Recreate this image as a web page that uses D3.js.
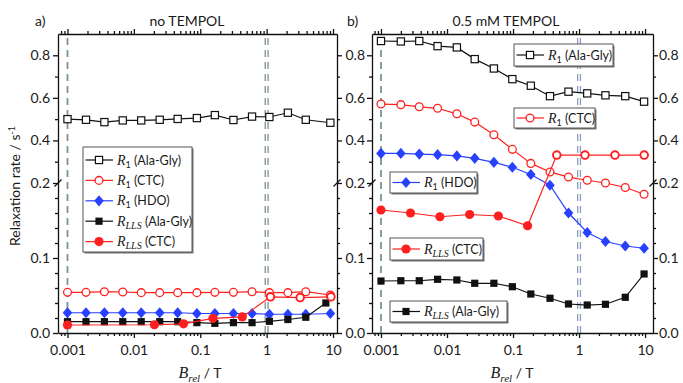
<!DOCTYPE html>
<html>
<head>
<meta charset="utf-8">
<script src="https://cdn.jsdelivr.net/npm/d3@7"></script>
<style>
  body { margin: 0; background: #fff; }
  svg { display: block; }
</style>
</head>
<body>
<svg id="chart" width="683" height="383"></svg>
<script>
// ---- axis ticks ----
const xTickValues = [0.001, 0.01, 0.1, 1, 10];
const xTickLabels = ["0.001", "0.01", "0.1", "1", "10"];
const yTickValues = [0, 0.1, 0.2, 0.4, 0.6, 0.8];
const yTickLabels = ["0.0", "0.1", "0.2", "0.4", "0.6", "0.8"];
const yMinorValues = [0.02, 0.04, 0.06, 0.08, 0.12, 0.14, 0.16, 0.18, 0.3, 0.5, 0.7];
const yBreakDomain = [0, 0.2, 0.9];          // broken axis: 0–0.2 below, 0.2–0.9 above
const guideFields = [0.001, 1];              // dashed guide lines, T

// ---- a) no TEMPOL ----
const fieldNoT = [0.001, 0.0019, 0.0036, 0.0068, 0.0129, 0.0245, 0.0457, 0.089, 0.166, 0.316, 0.603, 1.10, 2.09, 3.89, 9.12];
const r1AlaGlyNoT = [0.500, 0.497, 0.486, 0.494, 0.494, 0.497, 0.501, 0.505, 0.519, 0.496, 0.512, 0.510, 0.530, 0.497, 0.483];
const r1CtcNoT = [0.0542, 0.0542, 0.0551, 0.0547, 0.0538, 0.0538, 0.0538, 0.0538, 0.0542, 0.0542, 0.0551, 0.0538, 0.0538, 0.0551, 0.0507];
const r1HdoNoT = [0.027, 0.027, 0.027, 0.027, 0.027, 0.027, 0.027, 0.026, 0.026, 0.026, 0.026, 0.025, 0.025, 0.025, 0.026];
const fieldLlsAlaGlyNoT = [0.001, 0.0019, 0.0036, 0.0068, 0.0129, 0.0245, 0.0457, 0.089, 0.166, 0.316, 0.603, 1.10, 2.09, 3.89, 7.8];
const rLlsAlaGlyNoT = [0.0151, 0.0151, 0.0151, 0.0151, 0.0151, 0.0151, 0.0151, 0.0138, 0.0129, 0.0138, 0.0138, 0.0156, 0.018, 0.021, 0.040];
const fieldLlsCtcNoT = [0.001, 0.0204, 0.056, 0.155, 0.43, 1.14, 3.2, 9.3];
const rLlsCtcNoT = [0.0107, 0.0110, 0.0122, 0.0196, 0.0215, 0.0482, 0.0472, 0.0482];

// ---- b) 0.5 mM TEMPOL ----
const fieldT = [0.001, 0.002, 0.0038, 0.0072, 0.0141, 0.0263, 0.0513, 0.0977, 0.186, 0.363, 0.692, 1.33, 2.51, 5.01, 9.66];
const r1AlaGlyT = [0.867, 0.865, 0.867, 0.843, 0.837, 0.782, 0.738, 0.688, 0.657, 0.608, 0.629, 0.621, 0.612, 0.608, 0.582];
const r1CtcT = [0.571, 0.568, 0.558, 0.551, 0.525, 0.486, 0.427, 0.358, 0.292, 0.252, 0.228, 0.213, 0.200, 0.194, 0.185];
const r1HdoT = [0.339, 0.339, 0.336, 0.333, 0.327, 0.316, 0.297, 0.274, 0.240, 0.197, 0.160, 0.134, 0.122, 0.116, 0.113];
const rLlsAlaGlyT = [0.0693, 0.0697, 0.0697, 0.0716, 0.0707, 0.0663, 0.0663, 0.0617, 0.052, 0.0463, 0.0387, 0.0373, 0.0383, 0.0476, 0.0787];
const fieldLlsCtcT = [0.001, 0.0028, 0.0078, 0.022, 0.060, 0.166, 0.46, 1.23, 3.5, 9.7];
const rLlsCtcT = [0.164, 0.160, 0.155, 0.158, 0.156, 0.143, 0.331, 0.331, 0.331, 0.331];

// ---- series appearance and legend text ----
const RED = "#ff1f1f", BLUE = "#2741ff", BLACK = "#111";
const kinds = {
  r1AlaGly:   { color: BLACK, shape: "squareOpen", sub: "1",   name: " (Ala-Gly)" },
  r1Ctc:      { color: RED,   shape: "circleOpen", sub: "1",   name: " (CTC)" },
  r1Hdo:      { color: BLUE,  shape: "diamond",    sub: "1",   name: " (HDO)" },
  rLlsAlaGly: { color: BLACK, shape: "squareFill", sub: "LLS", name: " (Ala-Gly)" },
  rLlsCtc:    { color: RED,   shape: "circleFill", sub: "LLS", name: " (CTC)" }
};

const Y_TOP = 34, Y_BREAK = 183, Y_BOTTOM = 333;
const SANS = "Lato, 'Open Sans', sans-serif";
const SERIF = "'Liberation Serif', 'DejaVu Serif', serif";

const panels = [
  {
    tag: "a)", tagX: 35, title: "no TEMPOL", titleX: 187, xTitleX: 200,
    x0: 58, x1: 337, logDomain: [-3.143, 1.06],
    rightLabels: false, guideColors: ["#7c9494", "#7c9494"],
    series: [
      { x: fieldNoT, y: r1AlaGlyNoT, kind: "r1AlaGly" },
      { x: fieldNoT, y: r1CtcNoT, kind: "r1Ctc" },
      { x: fieldNoT, y: r1HdoNoT, kind: "r1Hdo" },
      { x: fieldLlsAlaGlyNoT, y: rLlsAlaGlyNoT, kind: "rLlsAlaGly" },
      { x: fieldLlsCtcNoT, y: rLlsCtcNoT, kind: "rLlsCtc", hollowFrom: 5 }
    ],
    legends: [
      { x: 83, y: 147, w: 109, h: 105, rows: ["r1AlaGly", "r1Ctc", "r1Hdo", "rLlsAlaGly", "rLlsCtc"], row0: 160, step: 20.4 }
    ]
  },
  {
    tag: "b)", tagX: 347, title: "0.5 mM TEMPOL", titleX: 506, xTitleX: 512,
    x0: 372, x1: 653, logDomain: [-3.136, 1.12],
    rightLabels: true, guideColors: ["#7c9494", "#8a9dbf"],
    series: [
      { x: fieldT, y: r1AlaGlyT, kind: "r1AlaGly" },
      { x: fieldT, y: r1CtcT, kind: "r1Ctc" },
      { x: fieldT, y: r1HdoT, kind: "r1Hdo" },
      { x: fieldT, y: rLlsAlaGlyT, kind: "rLlsAlaGly" },
      { x: fieldLlsCtcT, y: rLlsCtcT, kind: "rLlsCtc", hollowFrom: 6 }
    ],
    legends: [
      { x: 514, y: 44, w: 99, h: 22, rows: ["r1AlaGly"], row0: 55, step: 0 },
      { x: 514, y: 108, w: 81, h: 20, rows: ["r1Ctc"], row0: 118, step: 0 },
      { x: 390, y: 172, w: 87, h: 21, rows: ["r1Hdo"], row0: 182.5, step: 0 },
      { x: 390, y: 238, w: 93, h: 22, rows: ["rLlsCtc"], row0: 249, step: 0 },
      { x: 390, y: 301, w: 117, h: 21, rows: ["rLlsAlaGly"], row0: 311.5, step: 0 }
    ]
  }
];

const svg = d3.select("#chart");
const y = d3.scaleLinear().domain(yBreakDomain).range([Y_BOTTOM, Y_BREAK, Y_TOP]);

function marker(g, shape, color, cx, cy, hollow) {
  if (shape === "squareOpen") {
    g.append("rect").attr("x", cx - 3.6).attr("y", cy - 3.6).attr("width", 7.2).attr("height", 7.2)
      .attr("fill", "#fff").attr("stroke", color).attr("stroke-width", 1.2);
  } else if (shape === "squareFill") {
    g.append("rect").attr("x", cx - 3.6).attr("y", cy - 3.6).attr("width", 7.2).attr("height", 7.2)
      .attr("fill", color);
  } else if (shape === "circleOpen") {
    g.append("circle").attr("cx", cx).attr("cy", cy).attr("r", 3.9)
      .attr("fill", "#fff").attr("stroke", color).attr("stroke-width", 1.3);
  } else if (shape === "circleFill") {
    if (hollow) {
      g.append("circle").attr("cx", cx).attr("cy", cy).attr("r", 3.8)
        .attr("fill", "#fff").attr("stroke", color).attr("stroke-width", 1.9);
    } else {
      g.append("circle").attr("cx", cx).attr("cy", cy).attr("r", 4.6).attr("fill", color);
    }
  } else if (shape === "diamond") {
    g.append("path").attr("d", `M${cx},${cy - 5.6}L${cx + 4.8},${cy}L${cx},${cy + 5.6}L${cx - 4.8},${cy}Z`)
      .attr("fill", color);
  }
}

function styleAxis(sel, withText) {
  sel.selectAll("path, line").attr("stroke", "#111").attr("stroke-width", 1.3);
  if (withText) sel.selectAll("text").attr("font-family", SANS).attr("font-size", 14).attr("fill", "#1a1a1a");
}

function legendLabel(text, k, x, baseline) {
  const t = text.append("text").attr("x", x).attr("y", baseline).attr("fill", "#1a1a1a");
  t.append("tspan").attr("font-family", SERIF).attr("font-style", "italic").attr("font-size", 14).text("R");
  if (k.sub === "1") {
    t.append("tspan").attr("font-family", SANS).attr("font-size", 9).attr("dy", 3).text("1");
  } else {
    t.append("tspan").attr("font-family", SERIF).attr("font-style", "italic").attr("font-size", 10).attr("dy", 3).text(k.sub);
  }
  t.append("tspan").attr("font-family", SANS).attr("font-size", 12.5).attr("dy", -3).text(k.name);
}

panels.forEach(p => {
  const x = d3.scaleLog().domain([10 ** p.logDomain[0], 10 ** p.logDomain[1]]).range([p.x0, p.x1]);
  const g = svg.append("g");

  // dashed guides at 1 mT and 1 T
  guideFields.forEach((f, i) => {
    const gx = x(f);
    const offsets = i === 0 ? [0] : [-1.4, 1.4];
    offsets.forEach(o => {
      g.append("line").attr("x1", gx + o).attr("x2", gx + o).attr("y1", Y_BOTTOM).attr("y2", Y_TOP)
        .attr("stroke", p.guideColors[i]).attr("stroke-width", i === 0 ? 1.8 : 1.3)
        .attr("stroke-dasharray", "7,5");
    });
  });

  // data
  const line = d3.line().x(d => x(d[0])).y(d => y(d[1]));
  p.series.forEach(s => {
    const k = kinds[s.kind];
    const pts = s.x.map((v, i) => [v, s.y[i]]);
    g.append("path").datum(pts).attr("d", line).attr("fill", "none")
      .attr("stroke", k.color).attr("stroke-width", 1.2);
    const mg = g.append("g");
    pts.forEach((d, i) => {
      const hollow = s.hollowFrom !== undefined && i >= s.hollowFrom;
      marker(mg, k.shape, k.color, x(d[0]), y(d[1]), hollow);
    });
  });

  // axes
  const minorX = [];
  for (let e = -4; e <= 1; e++) {
    for (let m = 2; m <= 9; m++) {
      const v = +(m * 10 ** e).toPrecision(3);
      if (v >= x.domain()[0] && v <= x.domain()[1]) minorX.push(v);
    }
  }
  const bottom = g.append("g").attr("transform", `translate(0,${Y_BOTTOM})`)
    .call(d3.axisBottom(x).tickValues(xTickValues).tickFormat((d, i) => xTickLabels[i])
      .tickSize(5).tickPadding(7).tickSizeOuter(0));
  styleAxis(bottom, true);
  const bottomMinor = g.append("g").attr("transform", `translate(0,${Y_BOTTOM})`)
    .call(d3.axisBottom(x).tickValues(minorX).tickFormat("").tickSize(3).tickSizeOuter(0));
  bottomMinor.select(".domain").remove();
  styleAxis(bottomMinor, false);

  const top = g.append("g").attr("transform", `translate(0,${Y_TOP})`)
    .call(d3.axisTop(x).tickValues(xTickValues).tickFormat("").tickSize(5).tickSizeOuter(0));
  styleAxis(top, false);
  const topMinor = g.append("g").attr("transform", `translate(0,${Y_TOP})`)
    .call(d3.axisTop(x).tickValues(minorX).tickFormat("").tickSize(3).tickSizeOuter(0));
  topMinor.select(".domain").remove();
  styleAxis(topMinor, false);

  const left = g.append("g").attr("transform", `translate(${p.x0},0)`)
    .call(d3.axisLeft(y).tickValues(yTickValues).tickFormat((d, i) => yTickLabels[i])
      .tickSize(5).tickPadding(p.rightLabels ? 2 : 3).tickSizeOuter(0));
  styleAxis(left, true);
  const leftMinor = g.append("g").attr("transform", `translate(${p.x0},0)`)
    .call(d3.axisLeft(y).tickValues(yMinorValues).tickFormat("").tickSize(3).tickSizeOuter(0));
  leftMinor.select(".domain").remove();
  styleAxis(leftMinor, false);

  const right = g.append("g").attr("transform", `translate(${p.x1},0)`)
    .call(d3.axisRight(y).tickValues(yTickValues)
      .tickFormat(p.rightLabels ? (d, i) => yTickLabels[i] : "")
      .tickSize(5).tickPadding(1).tickSizeOuter(0));
  styleAxis(right, p.rightLabels);
  const rightMinor = g.append("g").attr("transform", `translate(${p.x1},0)`)
    .call(d3.axisRight(y).tickValues(yMinorValues).tickFormat("").tickSize(3).tickSizeOuter(0));
  rightMinor.select(".domain").remove();
  styleAxis(rightMinor, false);

  // break marks where the two y segments meet
  [p.x0, p.x1].forEach(ax => {
    g.append("path").attr("d", `M${ax - 3.5},${Y_BREAK + 3.5}L${ax + 3.5},${Y_BREAK - 3.5}`)
      .attr("stroke", "#111").attr("stroke-width", 1.3).attr("fill", "none");
  });

  // legends
  p.legends.forEach(L => {
    g.append("rect").attr("x", L.x + 1.5).attr("y", L.y + 1.5).attr("width", L.w).attr("height", L.h)
      .attr("fill", "#777");
    g.append("rect").attr("x", L.x).attr("y", L.y).attr("width", L.w).attr("height", L.h)
      .attr("fill", "#fff").attr("stroke", "#555").attr("stroke-width", 1);
    L.rows.forEach((kindKey, r) => {
      const k = kinds[kindKey];
      const cy = L.row0 + r * L.step;
      g.append("line").attr("x1", L.x + 2.5).attr("x2", L.x + 30).attr("y1", cy).attr("y2", cy)
        .attr("stroke", k.color).attr("stroke-width", 1.2);
      marker(g, k.shape, k.color, L.x + 16, cy, false);
      legendLabel(g, k, L.x + 34, cy + 4.5);
    });
  });

  // panel tag and title
  g.append("text").attr("x", p.tagX).attr("y", 26).attr("font-family", SANS).attr("font-size", 14)
    .attr("fill", "#1a1a1a").text(p.tag);
  g.append("text").attr("x", p.titleX).attr("y", 26).attr("text-anchor", "middle")
    .attr("font-family", SANS).attr("font-size", 14).attr("fill", "#1a1a1a").text(p.title);

  // x-axis title
  const xt = g.append("text").attr("x", p.xTitleX).attr("y", 378).attr("text-anchor", "middle").attr("fill", "#1a1a1a");
  xt.append("tspan").attr("font-family", SERIF).attr("font-style", "italic").attr("font-size", 16).text("B");
  xt.append("tspan").attr("font-family", SERIF).attr("font-style", "italic").attr("font-size", 11).attr("dy", 3.5).text("rel");
  xt.append("tspan").attr("font-family", SANS).attr("font-size", 14).attr("dy", -3.5).text(" / T");
});

// shared y-axis title
const yt = svg.append("text").attr("transform", "translate(20,186) rotate(-90)")
  .attr("text-anchor", "middle").attr("font-family", SANS).attr("font-size", 14).attr("fill", "#1a1a1a");
yt.append("tspan").text("Relaxation rate / s");
yt.append("tspan").attr("font-size", 9).attr("dy", -5).text("-1");
</script>
</body>
</html>
